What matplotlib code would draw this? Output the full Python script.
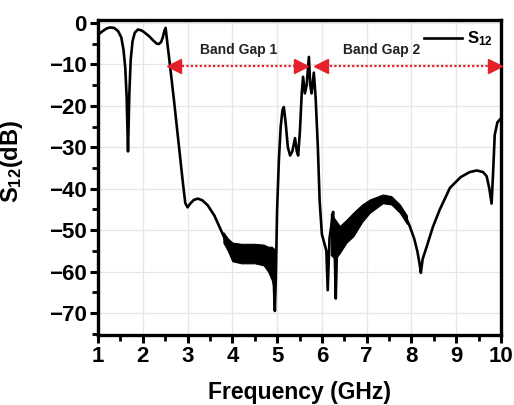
import matplotlib
matplotlib.use("Agg")
import matplotlib.pyplot as plt
from matplotlib.ticker import MultipleLocator

# ---------------- data ----------------
freq = [1.00, 1.10, 1.20, 1.27, 1.36, 1.45, 1.52, 1.57, 1.61, 1.64,
        1.67, 1.70, 1.73, 1.77, 1.82, 1.89, 1.97, 2.05, 2.14, 2.23,
        2.31, 2.36, 2.41, 2.45, 2.48, 2.51, 2.55, 2.60, 2.70, 2.80,
        2.90, 2.95, 3.00, 3.06, 3.14, 3.23, 3.33, 3.45, 3.60, 3.72,
        3.85, 3.95, 4.05, 4.20, 4.40, 4.60, 4.75, 4.85, 4.91, 4.95,
        4.97, 5.00, 5.04, 5.08, 5.12, 5.15, 5.19, 5.24, 5.29, 5.34,
        5.40, 5.44, 5.47, 5.51, 5.55, 5.58, 5.62, 5.66, 5.71, 5.74,
        5.77, 5.82, 5.86, 5.91, 5.95, 6.00, 6.05, 6.10, 6.13, 6.17,
        6.21, 6.25, 6.28, 6.31, 6.34, 6.40, 6.50, 6.63, 6.80, 7.00,
        7.20, 7.36, 7.55, 7.74, 7.86, 7.96, 8.06, 8.13, 8.18, 8.21,
        8.25, 8.34, 8.48, 8.63, 8.86, 9.10, 9.30, 9.46, 9.60, 9.68,
        9.74, 9.79, 9.82, 9.86, 9.92, 10.00]
s12 = [-2.9, -2.0, -1.3, -1.1, -1.2, -2.0, -3.5, -6.5, -11.0, -18.0,
       -31.0, -17.0, -9.0, -4.5, -2.4, -1.6, -1.8, -2.4, -3.2, -4.2,
       -5.0, -5.1, -4.6, -3.4, -2.0, -1.2, -5.0, -9.5, -19.0, -29.0,
       -39.0, -43.5, -44.5, -43.6, -42.7, -42.4, -42.8, -44.0, -46.5, -49.4,
       -52.5, -54.3, -55.2, -55.5, -55.5, -55.5, -55.8, -56.5, -58.0, -69.5,
       -62.0, -45.0, -33.0, -25.0, -21.0, -20.3, -24.0, -30.0, -32.0, -31.0,
       -27.8, -31.0, -32.0, -26.0, -17.0, -13.0, -17.0, -15.0, -8.2, -15.0,
       -17.0, -12.0, -18.0, -30.0, -43.0, -51.0, -53.0, -55.0, -64.5, -52.0,
       -49.0, -45.6, -52.0, -66.5, -53.0, -52.0, -50.5, -49.0, -47.0, -44.8,
       -43.3, -42.5, -42.8, -44.8, -46.5, -49.0, -52.0, -55.0, -58.0, -60.3,
       -57.0, -54.0, -49.2, -45.1, -39.8, -37.2, -36.0, -35.6, -36.0, -37.0,
       -40.0, -43.6, -37.0, -27.0, -24.0, -23.0]

# ripple envelopes (upper / lower edge of the dense oscillation bands)
band1_f = [3.80, 3.90, 4.00, 4.20, 4.50, 4.70, 4.80, 4.88, 4.93]
band1_hi = [-50.5, -52.0, -53.0, -53.3, -53.3, -53.5, -54.0, -54.0, -54.5]
band1_lo = [-53.0, -55.0, -57.5, -58.0, -58.0, -58.5, -60.0, -62.0, -64.0]

band2_f = [6.20, 6.30, 6.40, 6.55, 6.70, 6.90, 7.07, 7.36, 7.55, 7.74, 7.90]
band2_hi = [-46.0, -47.5, -49.0, -47.5, -45.8, -43.8, -42.6, -41.4, -41.8, -43.8, -46.5]
band2_lo = [-56.0, -57.0, -55.5, -53.0, -51.5, -48.0, -45.8, -43.5, -43.8, -45.8, -48.5]

gap_labels = ["Band Gap 1", "Band Gap 2"]
gap_start = [2.56, 5.85]
gap_end = [5.67, 10.0]
gap_level = -10.5

x_ticks = [1, 2, 3, 4, 5, 6, 7, 8, 9, 10]
y_ticks = [0, -10, -20, -30, -40, -50, -60, -70]

# ---------------- style ----------------
plt.rcParams['font.family'] = ['Liberation Sans', 'DejaVu Sans']
plt.rcParams['font.weight'] = 'bold'
plt.rcParams['mathtext.default'] = 'regular'

fig = plt.figure(figsize=(5.14, 4.05), dpi=100)
ax = fig.add_axes([98 / 514, 1 - 335 / 405, (501 - 98) / 514, (335 - 20) / 405])

ax.plot(freq, s12, color='black', lw=1.9, solid_joinstyle='round', zorder=3,
        label='S$_{12}$')
ax.fill_between(band1_f, band1_lo, band1_hi, color='black', lw=0.8, zorder=3)
ax.fill_between(band2_f, band2_lo, band2_hi, color='black', lw=0.8, zorder=3)

red = '#e4212b'
ms = 10
for lab, a, b in zip(gap_labels, gap_start, gap_end):
    ax.plot([a + 0.12, b - 0.12], [gap_level, gap_level], color=red,
            lw=1.6, linestyle=(0, (1, 1)), zorder=4, clip_on=False)
    ax.plot([a + 0.14], [gap_level], marker='<', color=red, ms=ms,
            mec=red, zorder=5, clip_on=False)
    ax.plot([b - 0.14], [gap_level], marker='>', color=red, ms=ms,
            mec=red, zorder=5, clip_on=False)

ax.text(4.15, -6.6, gap_labels[0], ha='center', va='center',
        fontsize=10, fontweight='bold', color='#222222')
ax.text(7.34, -6.6, gap_labels[1], ha='center', va='center',
        fontsize=10, fontweight='bold', color='#222222')

ax.set_xlim(1, 10)
ax.set_ylim(-75.3, 0.7)
ax.set_xticks(x_ticks)
ax.set_yticks(y_ticks)
ax.xaxis.set_minor_locator(MultipleLocator(0.5))
ax.yaxis.set_minor_locator(MultipleLocator(5))
ax.tick_params(axis='both', which='major', direction='out', length=6,
               width=2.2, labelsize=16, pad=2)
ax.tick_params(axis='both', which='minor', direction='out', length=4,
               width=2.0)
for lbl in ax.get_xticklabels() + ax.get_yticklabels():
    lbl.set_fontweight('bold')

for sp in ax.spines.values():
    sp.set_linewidth(2.4)

ax.grid(True, which='major', color='#e6e6e6', lw=0.9, zorder=0)
ax.set_axisbelow(True)

ax.set_xlabel('Frequency (GHz)', fontsize=16.5, fontweight='bold', labelpad=10)
ax.set_ylabel('S$_{12}$(dB)', fontsize=17, fontweight='bold')
ax.yaxis.set_label_coords(-0.18, 0.55)

leg = ax.legend(loc='center right', bbox_to_anchor=(1.0, 0.94),
                frameon=False, handlelength=2.3, handletextpad=0.3,
                borderpad=0, prop={'weight': 'bold', 'size': 12})

fig.savefig('out.png', dpi=100)
